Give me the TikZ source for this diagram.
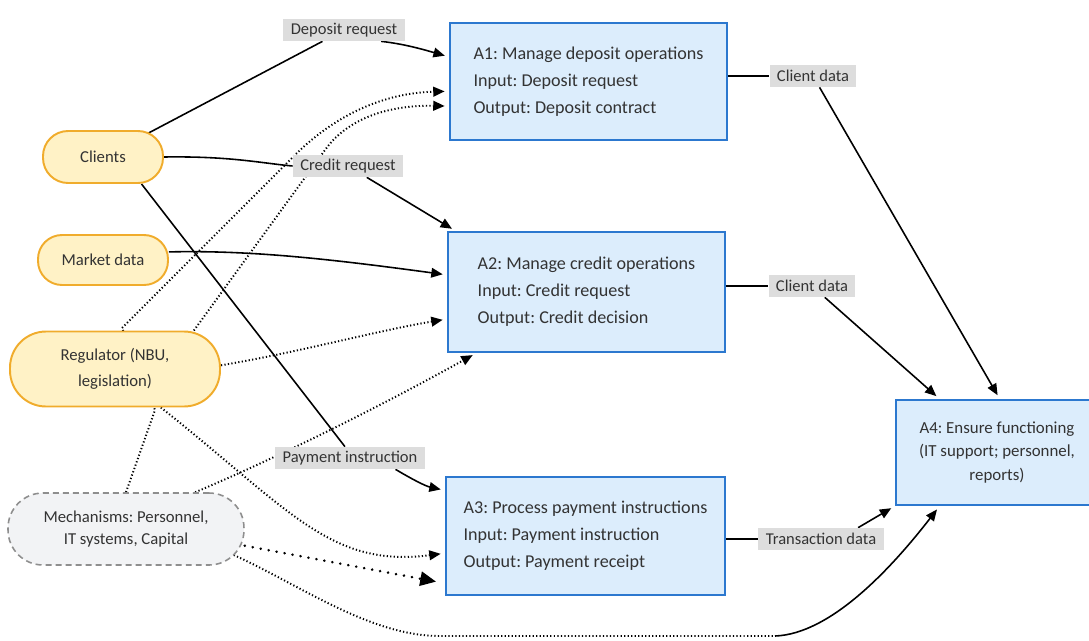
\documentclass[tikz,border=0pt]{standalone}
\usepackage{fontspec}
\setmainfont{Carlito}
\usetikzlibrary{calc,arrows.meta,positioning}

\pgfdeclarelayer{background}
\pgfsetlayers{background,main}

% Colors
\definecolor{inkColor}{HTML}{333333}
\definecolor{ioFill}{HTML}{FFF2C6}
\definecolor{ioStroke}{HTML}{F0AC2C}
\definecolor{mechFill}{HTML}{F2F3F5}
\definecolor{mechStroke}{HTML}{8E8E8E}
\definecolor{actFill}{HTML}{DCEDFC}
\definecolor{actStroke}{HTML}{2C78CF}
\definecolor{lblFill}{HTML}{DDDDDD}

\frenchspacing

\begin{document}
\begin{tikzpicture}[
    % one unit = one pixel of the sheet, y grows downwards
    x=0.02cm, y=-0.02cm,
    >={Triangle[length=6.5pt,width=5.5pt]},
    io/.style={draw=ioStroke, fill=ioFill, line width=1.1pt, align=center,
        text=inkColor, inner sep=0pt, font=\fontsize{9.5}{14.7}\selectfont},
    mechbox/.style={draw=mechStroke, fill=mechFill, line width=0.9pt,
        dash pattern=on 3.4pt off 2.3pt, align=center, text=inkColor,
        inner sep=0pt, font=\fontsize{9.5}{13}\selectfont},
    act/.style={draw=actStroke, fill=actFill, line width=1.1pt, text=inkColor,
        inner sep=0pt, align=left, font=\fontsize{10.3}{15.3}\selectfont},
    lbl/.style={fill=lblFill, text=inkColor, inner xsep=4.2pt, inner ysep=0pt,
        minimum height=0.44cm, font=\fontsize{9.4}{11}\selectfont},
    link/.style={line width=0.9pt},
    flow/.style={link, ->, shorten >=2.5pt},
    ctrl/.style={line width=1.1pt, dash pattern=on 0.7pt off 1.3pt},
    ctrlflow/.style={ctrl, ->, shorten >=2.5pt},
    sparseflow/.style={line width=1.6pt, line cap=round, dash pattern=on 0.01pt off 4.6pt,
        -{Triangle[length=9pt,width=8pt]}}
    ]

    \useasboundingbox (0,0) rectangle (1089,640);
    \clip (0,0) rectangle (1089,640);

    % Sources and mechanisms
    \node[io, minimum width=2.4cm, minimum height=1.04cm, rounded corners=0.5cm] (clients) at (103,157) {Clients};
    \node[io, minimum width=2.6cm, minimum height=1.0cm, rounded corners=0.48cm] (market) at (103,260) {Market data};
    \node[io, minimum width=4.2cm, minimum height=1.5cm, rounded corners=0.72cm] (regulator) at (115,369) {Regulator (NBU,\\legislation)};
    \node[mechbox, minimum width=4.72cm, minimum height=1.44cm, rounded corners=0.7cm] (mech) at (126,529) {Mechanisms: Personnel,\\IT systems, Capital};

    % Activities
    \node[act, minimum width=5.54cm, minimum height=2.34cm] (A1) at (588.5,81.5)
        {A1: Manage deposit operations\\Input: Deposit request\\Output: Deposit contract};
    \node[act, minimum width=5.54cm, minimum height=2.4cm] (A2) at (586.5,292)
        {A2: Manage credit operations\\Input: Credit request\\Output: Credit decision};
    \node[act, minimum width=5.58cm, minimum height=2.36cm] (A3) at (585.5,536)
        {A3: Process payment instructions\\Input: Payment instruction\\Output: Payment receipt};
    \node[act, minimum width=4.04cm, minimum height=2.1cm, align=center, font=\fontsize{9.6}{13.6}\selectfont] (A4) at (997,452.5)
        {A4: Ensure functioning\\(IT support; personnel,\\reports)};

    % Edge labels
    \node[lbl] (dep)  at (344,30)  {Deposit request};
    \node[lbl] (cred) at (348,166) {Credit request};
    \node[lbl] (pay)  at (350,458) {Payment instruction};
    \node[lbl] (cd1)  at (813,76)  {Client data};
    \node[lbl] (cd2)  at (812,286) {Client data};
    \node[lbl] (td)   at (821,539) {Transaction data};

    \coordinate (bend) at (775,636);

    \begin{pgfonlayer}{background}
        % Inputs
        \draw[link] (clients.center) -- (dep);
        \draw[flow] (dep.-17) .. controls (405,44) and (425,50) .. (A1.170);
        \draw[link] (clients.east) .. controls (230,156) and (260,163) .. (cred.west);
        \draw[flow] (cred) -- (A2.155);
        \draw[link] (clients.-35) -- (pay.114);
        \draw[flow] (pay.-14) .. controls (410,478) and (425,486) .. (A3.162);
        \draw[flow] (market.7) .. controls (250,250) and (330,259) .. (A2.173);

        % Controls and mechanisms
        \draw[ctrlflow] (mech.north) -- (155,410) -- (122,328) -- (292,158)
            .. controls (335,114) and (385,93) .. (A1.184);
        \draw[ctrlflow] (regulator.26) -- (325,150) .. controls (350,115) and (395,105) .. (A1.190);
        \draw[ctrlflow] (regulator.2) .. controls (300,352) and (380,330) .. (A2.-169);
        \draw[ctrlflow] (mech.28) .. controls (300,448) and (410,390) .. (A2.-151);
        \draw[ctrlflow] (regulator.-40) .. controls (290,510) and (330,568) .. (A3.187);
        \draw[sparseflow] (mech.-8) -- ($(A3.198)+(-9,0)$);
        \draw[ctrl] ($(mech.east)+(-11,26)$) .. controls (300,585) and (370,636) .. (440,636) -- (bend);
        \draw[flow] (bend) .. controls (830,634) and (890,570) .. (A4.-137);

        % Outputs to A4
        \draw[link] (A1.east|-cd1) -- (cd1.west);
        \draw[flow] (cd1) -- (A4.87);
        \draw[link] (A2.east|-cd2) -- (cd2.west);
        \draw[flow] (cd2) -- (A4.137);
        \draw[link] (A3.east|-td) -- (td.west);
        \draw[flow] (td.17) -- (A4.south west);
    \end{pgfonlayer}
\end{tikzpicture}
\end{document}
